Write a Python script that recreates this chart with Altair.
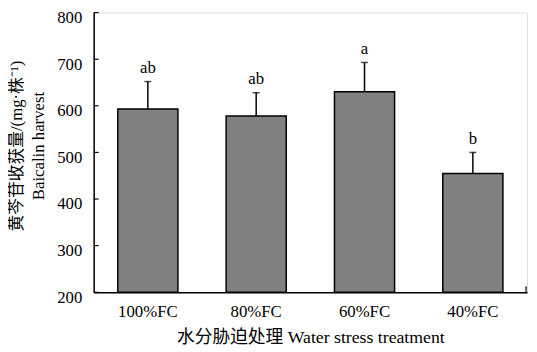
import altair as alt
import pandas as pd

categories = ["100%FC", "80%FC", "60%FC", "40%FC"]
means = [593, 578, 630, 455]
errors = [59, 50, 63, 45]
letters = ["ab", "ab", "a", "b"]
y_ticks = [200, 300, 400, 500, 600, 700, 800]

df = pd.DataFrame({"cat": categories, "mean": means, "err": errors, "lab": letters})
df["top"] = df["mean"] + df["err"]
ticks_df = pd.DataFrame({"v": y_ticks})

FONT = "Liberation Serif, Noto Sans CJK SC"

x = alt.X("cat:N", sort=categories,
          scale=alt.Scale(paddingInner=0.445, paddingOuter=0.2225),
          axis=alt.Axis(title="水分胁迫处理 Water stress treatment", labelAngle=0,
                        ticks=False, labelPadding=12, titlePadding=9,
                        domainColor="black", domainWidth=1.5,
                        labelFont=FONT, titleFont=FONT, labelFontSize=17, titleFontSize=18,
                        labelColor="black", titleColor="black", titleFontWeight="normal"))
yscale = alt.Scale(domain=[200, 800], nice=False)
y = alt.Y("mean:Q", scale=yscale,
          axis=alt.Axis(title=["黄芩苷收获量/(mg·株⁻¹)", "Baicalin harvest"],
                        values=y_ticks, ticks=False, grid=False, labelPadding=12,
                        labelOffset=5,
                        domainColor="black", domainWidth=1.5,
                        labelFont=FONT, titleFont=FONT, labelFontSize=17, titleFontSize=17,
                        labelColor="black", titleColor="black", titleFontWeight="normal",
                        titleX=-69, titleY=135, titleBaseline="bottom", titleLineHeight=22))

base = alt.Chart(df)
bars = base.mark_bar(color="#808080", stroke="black", strokeWidth=1.5).encode(
    x=x, y=y, y2=alt.datum(200))
err = base.mark_rule(color="black", strokeWidth=1.5).encode(
    x=alt.X("cat:N", sort=categories), y=alt.Y("mean:Q", scale=yscale), y2="top:Q")
caps = base.mark_tick(color="black", thickness=1.5, size=7, orient="horizontal").encode(
    x=alt.X("cat:N", sort=categories), y=alt.Y("top:Q", scale=yscale))
txt = base.mark_text(font=FONT, fontSize=17, dy=-5, baseline="bottom", color="black").encode(
    x=alt.X("cat:N", sort=categories), y=alt.Y("top:Q", scale=yscale), text="lab:N")
tk = alt.Chart(ticks_df).mark_rule(color="black", strokeWidth=1.2).encode(
    y=alt.Y("v:Q", scale=yscale), x=alt.value(0), x2=alt.value(5))
end_tick = alt.Chart(ticks_df.head(1)).mark_rule(color="black", strokeWidth=1.2).encode(
    x=alt.value(439), y=alt.value(284), y2=alt.value(278))

chart = alt.layer(bars, err, caps, txt, tk, end_tick).properties(
    width=440, height=284,
    autosize=alt.AutoSizeParams(type="none"),
    padding={"left": 87, "top": 2, "right": 2, "bottom": 58},
).configure_view(stroke=None).configure(background="white")

chart.save("out.html", embed_options={"renderer": "svg", "actions": False})
